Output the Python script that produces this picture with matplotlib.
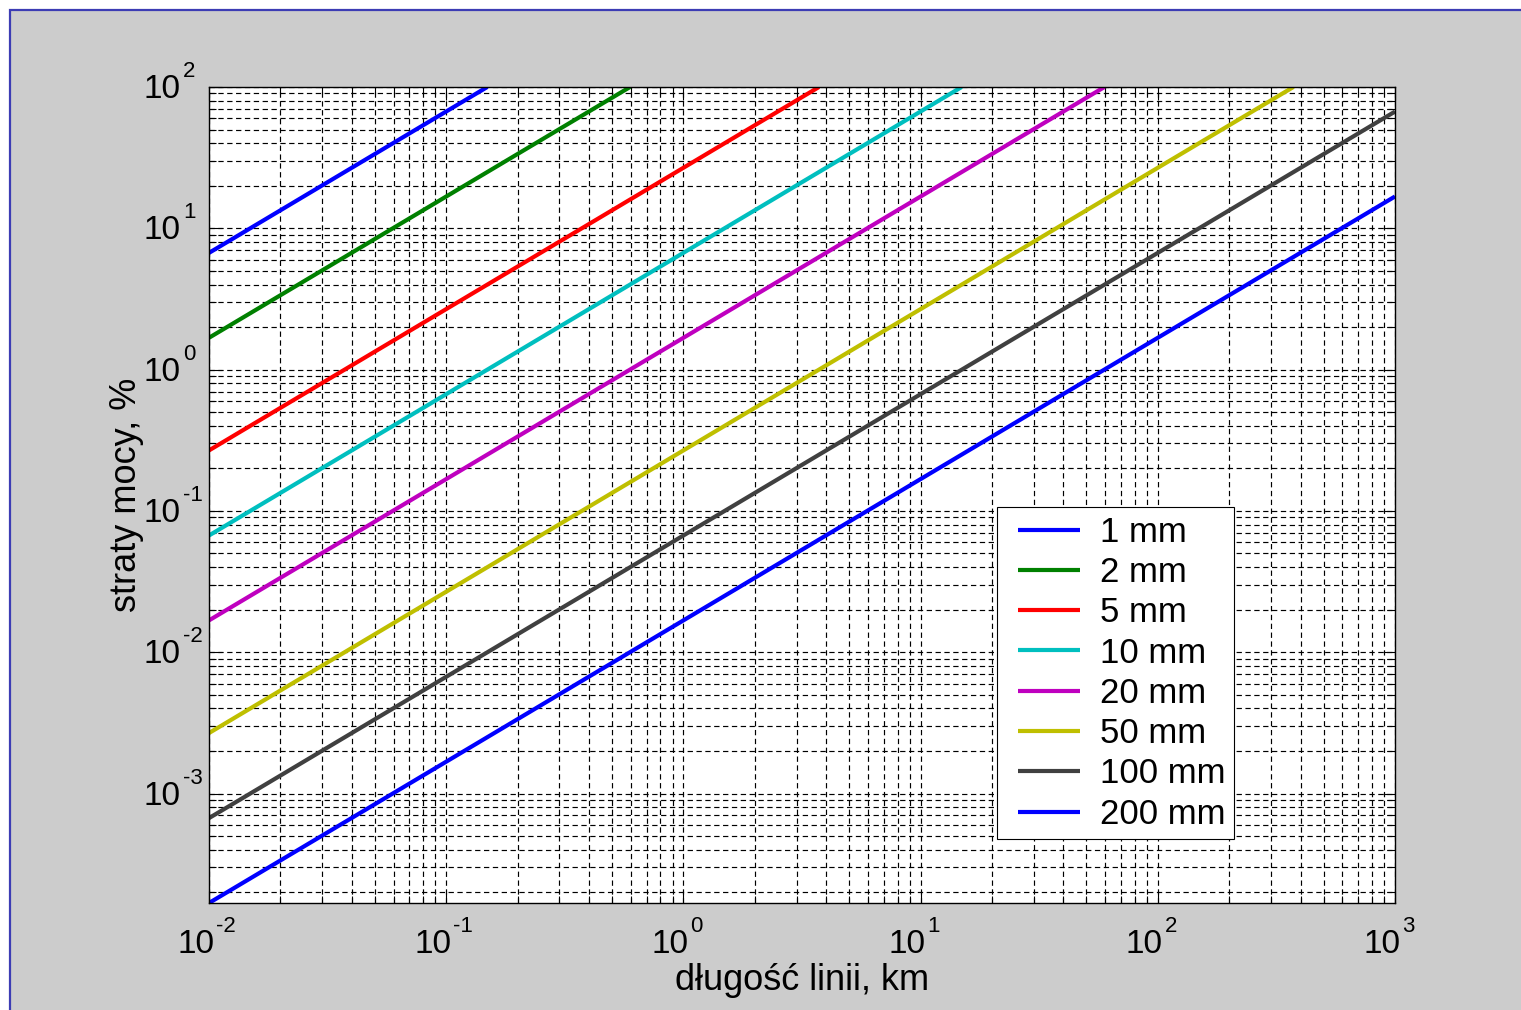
import matplotlib.pyplot as plt
from matplotlib.patches import Rectangle
from matplotlib.lines import Line2D
from matplotlib.legend_handler import HandlerLine2D
from matplotlib.ticker import LogLocator, NullFormatter
import numpy as np

plt.rcParams['font.family'] = ['Liberation Sans', 'DejaVu Sans']

# przekroje przewodu i straty mocy na koncach odcinkow (dlugosc w km, straty w %)
labels = ['1 mm', '2 mm', '5 mm', '10 mm', '20 mm', '50 mm', '100 mm', '200 mm']
x_start = [0.01, 0.01, 0.01, 0.01, 0.01, 0.01, 0.01, 0.01]
y_start = [6.7, 1.68, 0.268, 0.067, 0.0168, 0.00268, 0.00067, 0.000168]
x_end = [0.149, 0.596, 3.73, 14.9, 59.6, 373, 1000, 1000]
y_end = [100, 100, 100, 100, 100, 100, 67, 16.8]

x_decades = [-2, -1, 0, 1, 2, 3]
y_decades = [-3, -2, -1, 0, 1, 2]

colors = ['#0000ff', '#008000', '#ff0000', '#00bfbf', '#bf00bf', '#bfbf00', '#404040', '#0000ff']

fig = plt.figure(figsize=(15.21, 10.10), dpi=100)
fig.patch.set_facecolor('white')
fig.patches.append(Rectangle((9.5 / 1521, -0.1), 1.2, 1.1 - 10 / 1010, transform=fig.transFigure,
                             facecolor='#cccccc', edgecolor='#3c3cb4', linewidth=1.6, zorder=-10))

ax = fig.add_axes([209 / 1521, 1 - 903 / 1010, 1186 / 1521, 816 / 1010])
ax.set_facecolor('white')

for i in range(len(labels)):
    ax.loglog([x_start[i], x_end[i]], [y_start[i], y_end[i]], color=colors[i], linewidth=3.0,
              label=labels[i], solid_capstyle='butt')

ax.set_xlim(0.01, 1000)
ax.set_ylim(0.000168, 100)

ax.xaxis.set_major_locator(LogLocator(base=10, numticks=20))
ax.yaxis.set_major_locator(LogLocator(base=10, numticks=20))
ax.xaxis.set_minor_locator(LogLocator(base=10, subs=np.arange(2, 10), numticks=50))
ax.yaxis.set_minor_locator(LogLocator(base=10, subs=np.arange(2, 10), numticks=50))
ax.xaxis.set_major_formatter(NullFormatter())
ax.yaxis.set_major_formatter(NullFormatter())
ax.xaxis.set_minor_formatter(NullFormatter())
ax.yaxis.set_minor_formatter(NullFormatter())

ax.grid(True, which='both', color='black', linestyle=(0, (4.5, 3)), linewidth=0.85)
ax.tick_params(which='both', direction='in', top=True, right=True, width=0.8)
ax.tick_params(which='major', length=9)
ax.tick_params(which='minor', length=5)
for s in ax.spines.values():
    s.set_linewidth(1.0)

# etykiety potegowe: "10" i wykladnik jako osobne napisy
for d in x_decades:
    ax.annotate('10', xy=(10.0 ** d, 0), xycoords=('data', 'axes fraction'), xytext=(5, -50),
                textcoords='offset pixels', ha='right', va='baseline', fontsize=24, annotation_clip=False)
    ax.annotate(str(d), xy=(10.0 ** d, 0), xycoords=('data', 'axes fraction'), xytext=(7, -29),
                textcoords='offset pixels', ha='left', va='baseline', fontsize=16, annotation_clip=False)
for d in y_decades:
    ax.annotate('10', xy=(0, 10.0 ** d), xycoords=('axes fraction', 'data'), xytext=(-28, -11),
                textcoords='offset pixels', ha='right', va='baseline', fontsize=24, annotation_clip=False)
    ax.annotate(str(d), xy=(0, 10.0 ** d), xycoords=('axes fraction', 'data'), xytext=(-26, 10),
                textcoords='offset pixels', ha='left', va='baseline', fontsize=16, annotation_clip=False)

ax.set_xlabel('długość linii, km', fontsize=26)
ax.set_ylabel('straty mocy, %', fontsize=26)
ax.xaxis.set_label_coords(0.5, -0.074)
ax.yaxis.set_label_coords(-0.055, 0.5)

leg = ax.legend(loc='upper left', bbox_to_anchor=(0.6644, 0.4853), fontsize=25, fancybox=False,
                framealpha=1, edgecolor='black', borderpad=0.25, labelspacing=0.21,
                handlelength=2.13, handletextpad=0.58, borderaxespad=0,
                handler_map={Line2D: HandlerLine2D(xpad=0.35)})
leg.get_frame().set_linewidth(0.8)

fig.savefig('out.png', dpi=100)
